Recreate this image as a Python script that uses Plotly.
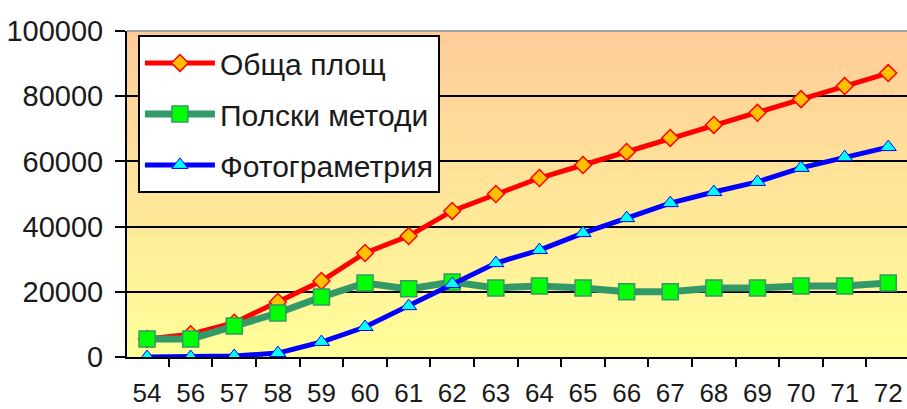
import plotly.graph_objects as go

years = ["54", "56", "57", "58", "59", "60", "61", "62", "63", "64", "65", "66", "67", "68", "69", "70", "71", "72"]
total_area = [5500, 7000, 10500, 16900, 23300, 31900, 37100, 44800, 50000, 54900, 58900, 62900, 67200, 71200, 74900, 79100, 83100, 87100]
polish_methods = [5500, 5500, 9500, 13500, 18400, 22700, 20900, 23000, 21200, 21800, 21200, 20000, 20000, 21200, 21200, 21800, 21800, 22700]
photogrammetry = [0, 0, 300, 1200, 4600, 9200, 15600, 22400, 28800, 32800, 38000, 42600, 47200, 50600, 53700, 58000, 61300, 64400]
names = ["Обща площ", "Полски методи", "Фотограметрия"]
y_ticks = [0, 20000, 40000, 60000, 80000, 100000]

fig = go.Figure()
fig.add_trace(go.Scatter(
    x=years, y=total_area, name=names[0], mode="lines+markers",
    line=dict(color="#FF0000", width=5),
    marker=dict(symbol="diamond", size=13, color="#FFC000", line=dict(color="#FF0000", width=1.5)),
    legendgroup="a"))
fig.add_trace(go.Scatter(
    x=years, y=polish_methods, name=names[1], mode="lines+markers",
    line=dict(color="#339966", width=7),
    marker=dict(symbol="square", size=16, color="#00FF00", line=dict(color="#339966", width=1.5)),
    legendgroup="b"))
fig.add_trace(go.Scatter(
    x=years, y=photogrammetry, name=names[2], mode="lines+markers",
    line=dict(color="#0000FF", width=5),
    marker=dict(symbol="triangle-up", size=14, color="#00FFFF", line=dict(color="#0000FF", width=1)),
    legendgroup="c"))

# background gradient (orange top -> yellow bottom)
shapes = []
n = 80
top = (255, 204, 153)
bot = (255, 255, 153)
for i in range(n):
    t = i / (n - 1)
    r = round(bot[0] + (top[0] - bot[0]) * t)
    g = round(bot[1] + (top[1] - bot[1]) * t)
    b = round(bot[2] + (top[2] - bot[2]) * t)
    shapes.append(dict(type="rect", xref="paper", yref="paper", x0=0, x1=1,
                       y0=i / n, y1=(i + 1) / n + 0.002, layer="below",
                       line=dict(width=0), fillcolor=f"rgb({r},{g},{b})"))
shapes.append(dict(type="line", xref="paper", yref="paper", x0=0, x1=1, y0=1, y1=1,
                   line=dict(color="#A0A0A0", width=2), layer="above"))

fig.update_layout(
    width=907, height=409,
    margin=dict(l=127, r=0, t=31, b=52, autoexpand=False),
    paper_bgcolor="white", plot_bgcolor="#FFFF99",
    font=dict(family="Liberation Sans, Arial, sans-serif", size=29, color="#1a1a1a"),
    shapes=shapes,
    showlegend=True,
    legend=dict(x=0.014, y=0.988, xanchor="left", yanchor="top",
                bgcolor="white", bordercolor="black", borderwidth=2,
                font=dict(size=30, color="#1a1a1a"), itemwidth=70,
                tracegroupgap=9, traceorder="grouped"),
    xaxis=dict(type="category", range=[-0.46, 17.43], showgrid=False, automargin=False,
               showline=True, linecolor="black", linewidth=2,
               ticks="outside", tickson="boundaries", ticklen=8, tickwidth=2, tickcolor="black",
               tickfont=dict(size=26), ticklabelstandoff=12, zeroline=False),
    yaxis=dict(range=[0, 100000], tickvals=y_ticks, showgrid=True, gridcolor="black", gridwidth=2,
               showline=True, linecolor="black", linewidth=2, automargin=False,
               ticks="outside", ticklen=10, tickwidth=2, tickcolor="black",
               ticklabelstandoff=6, zeroline=False, tickformat="d"),
)

fig.write_html("out.html",
               config={"displayModeBar": False},
               post_script="document.body.style.margin='0';document.body.style.overflow='hidden';")
